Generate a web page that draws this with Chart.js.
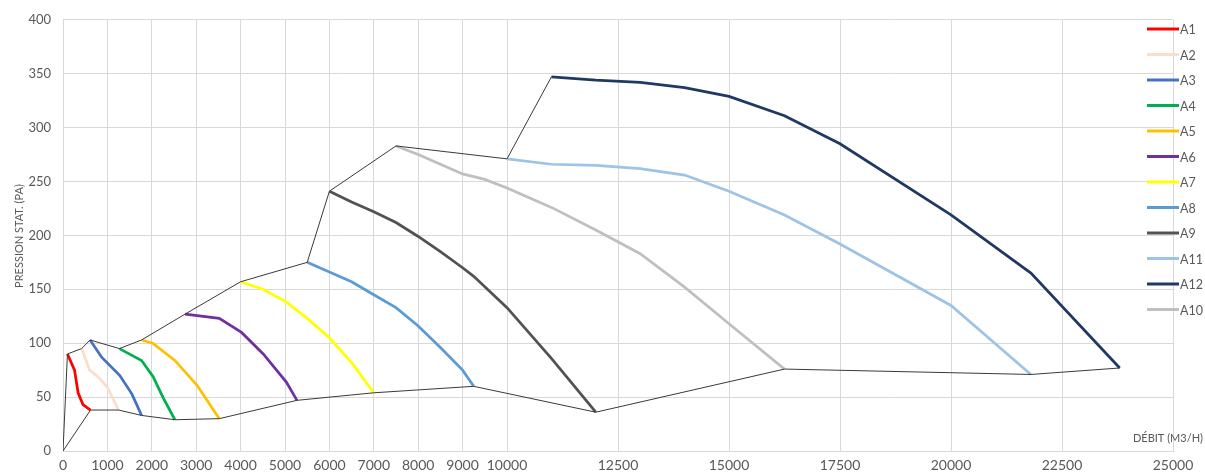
<!DOCTYPE html>
<html>
<head>
<meta charset="utf-8">
<title>Courbes A1 - A12</title>
<script src="https://cdn.jsdelivr.net/npm/chart.js@4.4.0/dist/chart.umd.min.js"></script>
<style>
    html, body { margin: 0; padding: 0; background: #ffffff; }
    #wrap { width: 1205px; height: 473px; position: relative; }
</style>
</head>
<body>
<div id="wrap"><canvas id="fanChart" width="1205" height="473"></canvas></div>
<script>
// =====================================
// Data (débit m3/h, pression Pa)
// =====================================
const a1Flow = [100, 260, 340, 450, 620];
const a1Pressure = [90, 75, 54, 43, 38];

const a2Flow = [420, 600, 810, 1000, 1250];
const a2Pressure = [95, 75, 68, 59, 38];

const a3Flow = [610, 870, 1280, 1550, 1770];
const a3Pressure = [103, 87, 70, 53, 33];

const a4Flow = [1270, 1770, 2030, 2260, 2520];
const a4Pressure = [95, 84, 69, 49, 29];

const a5Flow = [1770, 2020, 2520, 3020, 3520];
const a5Pressure = [103, 100, 84, 61, 30];

const a6Flow = [2750, 3520, 4020, 4510, 5030, 5270];
const a6Pressure = [127, 123, 110, 90, 64, 47];

const a7Flow = [4000, 4500, 5000, 5500, 6000, 6500, 7000];
const a7Pressure = [157, 150, 139, 123, 105, 82, 54];

const a8Flow = [5500, 6000, 6500, 7000, 7500, 8000, 8500, 9000, 9250];
const a8Pressure = [175, 166, 157, 145, 133, 116, 96, 75, 60];

const a9Flow = [6000, 6500, 7000, 7500, 8000, 8500, 9000, 9250, 10000, 11000, 12000];
const a9Pressure = [241, 231, 222, 212, 199, 185, 170, 162, 133, 86, 36];

const a10Flow = [7500, 8000, 8500, 9000, 9500, 10000, 11000, 12000, 13000, 14000, 15000, 16250];
const a10Pressure = [283, 275, 266, 257, 252, 244, 226, 205, 183, 152, 118, 76];

const a11Flow = [10000, 11000, 12000, 13000, 14000, 15000, 16250, 17500, 20000, 21800];
const a11Pressure = [271, 266, 265, 262, 256, 241, 219, 192, 135, 71];

const a12Flow = [11000, 12000, 13000, 14000, 15000, 16250, 17500, 20000, 21800, 23800];
const a12Pressure = [347, 344, 342, 337, 329, 311, 285, 219, 165, 77];

// both envelope lines start from the origin
const originFlow = 0;
const originPressure = 0;

// Axis ticks
const xTickValues = [0, 1000, 2000, 3000, 4000, 5000, 6000, 7000, 8000, 9000, 10000,
    12500, 15000, 17500, 20000, 22500, 25000];
const yTickValues = [0, 50, 100, 150, 200, 250, 300, 350, 400];

// Series in legend order
const seriesNames = ["A1", "A2", "A3", "A4", "A5", "A6", "A7", "A8", "A9", "A11", "A12", "A10"];
const seriesFlows = [a1Flow, a2Flow, a3Flow, a4Flow, a5Flow, a6Flow, a7Flow, a8Flow, a9Flow, a11Flow, a12Flow, a10Flow];
const seriesPressures = [a1Pressure, a2Pressure, a3Pressure, a4Pressure, a5Pressure, a6Pressure,
    a7Pressure, a8Pressure, a9Pressure, a11Pressure, a12Pressure, a10Pressure];
const seriesColors = ["#FF0000", "#FBDDCB", "#4472C4", "#00B050", "#FFC000", "#7030A0",
    "#FFFF00", "#5B9BD5", "#525252", "#9DC3E6", "#203864", "#BFBFBF"];

const TEXT_COLOR = "#595959";
const GRID_COLOR = "#d9d9d9";
const FONT = "Lato, 'Open Sans', sans-serif";

// =====================================
// Build datasets
// =====================================
function toPoints(flows, pressures) {
    return flows.map((f, i) => ({ x: f, y: pressures[i] }));
}

const curves = seriesNames.map((name, i) => toPoints(seriesFlows[i], seriesPressures[i]));

// thin black lines through the first and last point of every curve
function buildEnvelope(pick) {
    const pts = curves.map(pick).sort((a, b) => a.x - b.x);
    return [{ x: originFlow, y: originPressure }].concat(pts);
}
const upperEnvelope = buildEnvelope(c => c[0]);
const lowerEnvelope = buildEnvelope(c => c[c.length - 1]);

const datasets = [];
[upperEnvelope, lowerEnvelope].forEach(env => {
    datasets.push({
        label: "",
        data: env,
        showLine: true,
        borderColor: "#3a3a3a",
        borderWidth: 1,
        pointRadius: 0,
        tension: 0
    });
});
seriesNames.forEach((name, i) => {
    datasets.push({
        label: name,
        data: curves[i],
        showLine: true,
        borderColor: seriesColors[i],
        borderWidth: 2.75,
        pointRadius: 0,
        tension: 0
    });
});

// =====================================
// Legend + axis titles (drawn on canvas)
// =====================================
const decorPlugin = {
    id: "decor",
    afterDraw(chart) {
        const ctx = chart.ctx;
        ctx.save();

        // legend
        ctx.font = "12.5px " + FONT;
        ctx.textBaseline = "middle";
        ctx.textAlign = "left";
        seriesNames.forEach((name, i) => {
            const y = 29 + i * 25.5;
            ctx.strokeStyle = seriesColors[i];
            ctx.lineWidth = 3;
            ctx.beginPath();
            ctx.moveTo(1147, y);
            ctx.lineTo(1179, y);
            ctx.stroke();
            ctx.fillStyle = TEXT_COLOR;
            ctx.fillText(name, 1180, y + 1);
        });

        // x title
        ctx.font = "11px " + FONT;
        ctx.textAlign = "right";
        ctx.fillText("DÉBIT (M3/H)", 1203, 438);

        // y title
        ctx.translate(19, 236);
        ctx.rotate(-Math.PI / 2);
        ctx.textAlign = "center";
        ctx.fillText("PRESSION STAT. (PA)", 0, 0);

        ctx.restore();
    }
};

// =====================================
// Chart
// =====================================
const ctx = document.getElementById("fanChart").getContext("2d");
new Chart(ctx, {
    type: "scatter",
    data: { datasets: datasets },
    plugins: [decorPlugin],
    options: {
        responsive: false,
        animation: false,
        devicePixelRatio: 1,
        layout: { padding: { top: 19, right: 32, left: 0, bottom: 0 } },
        plugins: {
            legend: { display: false },
            tooltip: { enabled: false }
        },
        scales: {
            x: {
                type: "linear",
                min: 0,
                max: 25000,
                afterBuildTicks: scale => {
                    scale.ticks = xTickValues.map(v => ({ value: v }));
                },
                afterFit: scale => { scale.height = 22; },
                grid: { color: GRID_COLOR, drawTicks: false },
                border: { color: GRID_COLOR },
                ticks: {
                    autoSkip: false,
                    maxRotation: 0,
                    padding: 6,
                    color: TEXT_COLOR,
                    font: { family: FONT, size: 14 },
                    callback: v => String(v)
                }
            },
            y: {
                min: 0,
                max: 400,
                afterBuildTicks: scale => {
                    scale.ticks = yTickValues.map(v => ({ value: v }));
                },
                afterFit: scale => { scale.width = 63; },
                grid: { color: GRID_COLOR, drawTicks: false },
                border: { color: GRID_COLOR },
                ticks: {
                    padding: 12,
                    color: TEXT_COLOR,
                    font: { family: FONT, size: 13 },
                    callback: v => String(v)
                }
            }
        }
    }
});
</script>
</body>
</html>
